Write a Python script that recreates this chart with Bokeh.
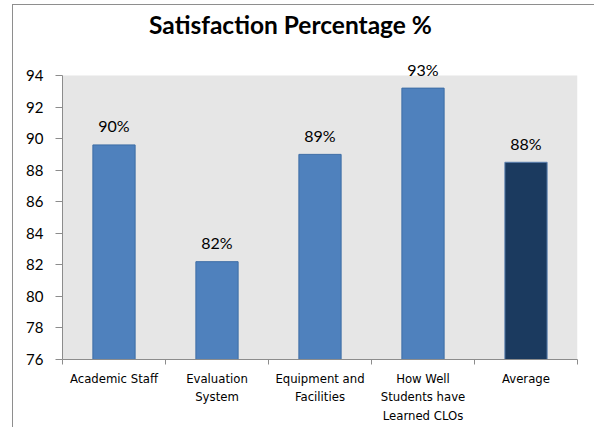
from bokeh.plotting import figure
from bokeh.models import Range1d, FixedTicker, LinearAxis, ColumnDataSource, BoxAnnotation, Label
from bokeh.core.properties import value
from bokeh.embed import file_html
from bokeh.resources import INLINE

categories = ["Academic Staff", "Evaluation\nSystem", "Equipment and\nFacilities",
              "How Well\nStudents have\nLearned CLOs", "Average"]
values = [89.6, 82.2, 89.0, 93.2, 88.5]
labels = ["90%", "82%", "89%", "93%", "88%"]
colors = ["#4F81BD", "#4F81BD", "#4F81BD", "#4F81BD", "#1B3A5F"]
edges = ["#3D6DA6", "#3D6DA6", "#3D6DA6", "#3D6DA6", "#5A80B0"]
y_ticks = [76, 78, 80, 82, 84, 86, 88, 90, 92, 94]
title_text = "Satisfaction Percentage %"

n = len(categories)
xs = [i + 0.5 for i in range(n)]
src = ColumnDataSource(dict(x=xs, top=values, lab=labels, fill=colors, edge=edges))

W, H = 582, 423
# frame spans the full canvas height down to the x axis; extra headroom holds the title
head_px, plot_px = 70, 284
y_top = y_ticks[-1] + head_px * (y_ticks[-1] - y_ticks[0]) / plot_px

p = figure(width=W, height=H, output_backend="svg", toolbar_location=None,
           x_range=Range1d(0, n), y_range=Range1d(y_ticks[0], y_top),
           x_axis_type=None, y_axis_type=None,
           min_border_left=49, min_border_right=18, min_border_top=0, min_border_bottom=69,
           background_fill_color="white", border_fill_color="white",
           outline_line_color=None,
           styles={"margin-left": "12px", "margin-top": "4px",
                   "border-left": "1px solid #8E8E8E", "border-top": "1px solid #8E8E8E"})

plot_bg = BoxAnnotation(left=0, right=n, bottom=y_ticks[0], top=y_ticks[-1],
                        fill_color="#E6E6E6", fill_alpha=1, line_color=None, level="image")
p.add_layout(plot_bg)

yaxis = LinearAxis(ticker=FixedTicker(ticks=y_ticks), bounds=(y_ticks[0], y_ticks[-1]))
yaxis.axis_line_color = "#8C8C8C"
yaxis.major_tick_line_color = "#8C8C8C"
yaxis.major_tick_out = 7
yaxis.major_tick_in = 0
yaxis.minor_tick_line_color = None
yaxis.major_label_standoff = 12
yaxis.major_label_text_font = "Lato"
yaxis.major_label_text_font_size = "15px"
yaxis.major_label_text_color = "black"
p.add_layout(yaxis, "left")

xaxis = LinearAxis(ticker=FixedTicker(ticks=xs, minor_ticks=list(range(n + 1))))
xaxis.major_label_overrides = {x: c for x, c in zip(xs, categories)}
xaxis.axis_line_color = "#8C8C8C"
xaxis.major_tick_line_color = None
xaxis.minor_tick_line_color = "#8C8C8C"
xaxis.minor_tick_out = 5
xaxis.minor_tick_in = 0
xaxis.major_label_standoff = 5
xaxis.major_label_text_font = "DejaVu Sans Condensed, Roboto"
xaxis.major_label_text_font_size = "13px"
xaxis.major_label_text_color = "black"
xaxis.major_label_text_line_height = 1.25
p.add_layout(xaxis, "below")

p.ygrid.grid_line_color = "#8E8E8E"
p.ygrid.grid_line_width = 1
p.ygrid.ticker = FixedTicker(ticks=y_ticks)
p.xgrid.grid_line_color = None

p.vbar(x="x", top="top", bottom=y_ticks[0], width=0.41, source=src,
       fill_color="fill", line_color="edge", line_width=1)

p.text(x="x", y="top", text="lab", source=src, y_offset=-19,
       text_align="center", text_baseline="alphabetic",
       text_font=value("Lato"), text_font_size="16px", text_color="black")

# screen units here are measured from the frame's lower-left corner
p.add_layout(Label(x=228, y=335, x_units="screen", y_units="screen",
                   text=title_text, text_align="center", text_baseline="alphabetic",
                   text_font="Lato", text_font_style="bold", text_font_size="24.5px",
                   text_color="black"))

open("out.html", "w").write(file_html(p, INLINE))
